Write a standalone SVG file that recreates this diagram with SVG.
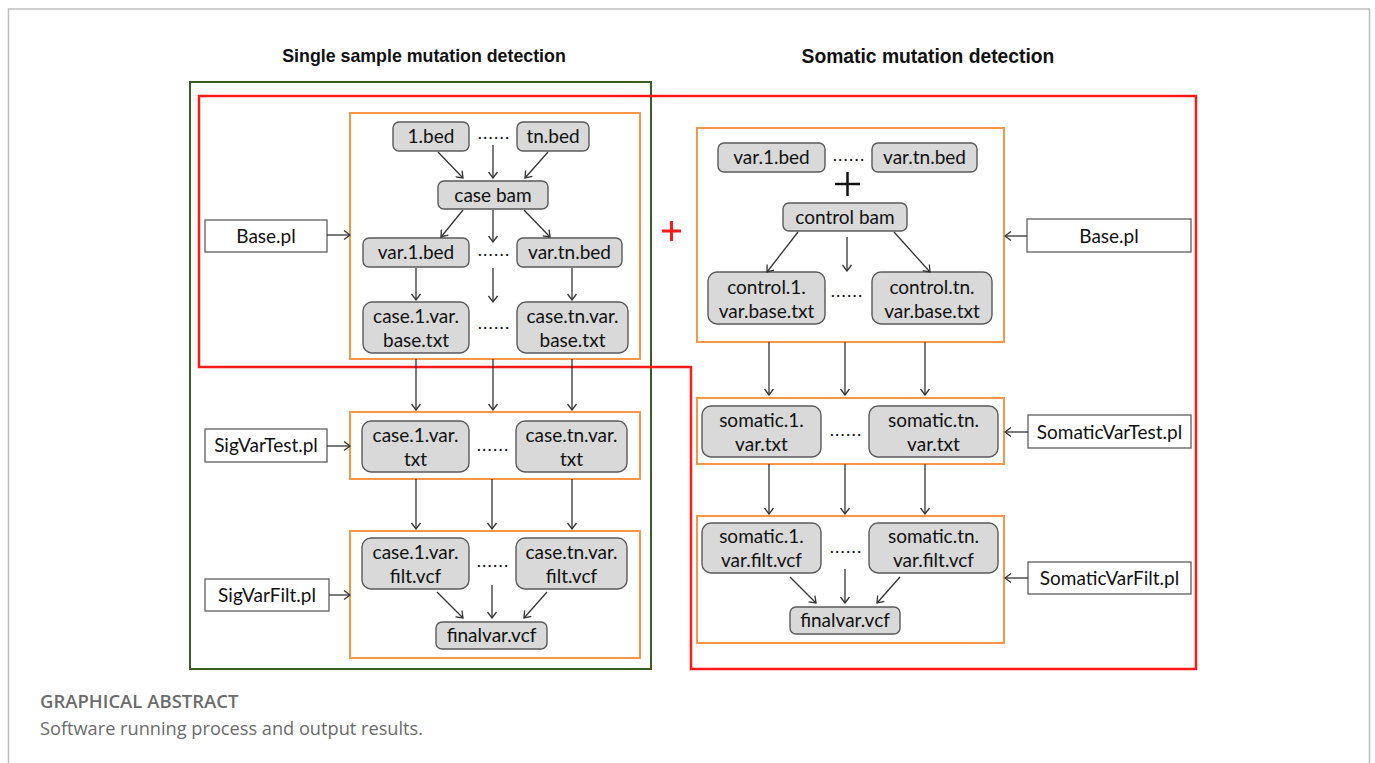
<svg xmlns="http://www.w3.org/2000/svg" width="1375" height="763" viewBox="0 0 1375 763">
<style>
.frame{fill:none;stroke:#bdbdbd;stroke-width:1.5}
.title{font-family:"Liberation Sans",Arial,sans-serif;font-weight:bold;font-size:17.8px;fill:#111;text-anchor:middle}
.grp-green{fill:none;stroke:#3a5e22;stroke-width:2}
.grp-red{fill:none;stroke:#ff1a1a;stroke-width:2.5}
.stage{fill:none;stroke:#f79646;stroke-width:2}
.node rect{fill:#d9d9d9;stroke:#5a5a5a;stroke-width:1.4}
.script rect{fill:#fff;stroke:#6a6a6a;stroke-width:1.4}
.lbl{font-family:Lato,"Open Sans",sans-serif;font-size:19px;fill:#111;text-anchor:middle}
.dots{font-family:Lato,sans-serif;font-size:18px;letter-spacing:1.2px;fill:#111;text-anchor:middle}
.conn line{stroke:#333;stroke-width:1.3;marker-end:url(#arr)}
.cap1{font-family:"Open Sans",sans-serif;font-weight:600;font-size:18.5px;fill:#6b6b6b}
.cap2{font-family:"Open Sans",sans-serif;font-size:18.2px;fill:#6b6b6b}
</style>
<defs>
<marker id="arr" viewBox="0 0 10 10" refX="9" refY="5" markerWidth="10" markerHeight="10" markerUnits="userSpaceOnUse" orient="auto">
<path d="M3,0.5 L9,5 L3,9.5" fill="none" stroke="#333" stroke-width="1.3"/>
</marker>
</defs>
<rect width="1375" height="763" fill="#fff"/>
<path class="frame" d="M8.5,763 V9 H1369.5 V763"/>

<text class="title" x="424" y="62">Single sample mutation detection</text>
<text class="title" x="928" y="63" style="font-size:19.3px">Somatic mutation detection</text>

<rect class="grp-green" x="190" y="82" width="461" height="587"/>
<path class="grp-red" d="M199,96 H1196 V669 H691 V367 H199 Z"/>

<!-- stages -->
<rect class="stage" x="350" y="113" width="290" height="246"/>
<rect class="stage" x="350" y="412" width="290" height="67"/>
<rect class="stage" x="350" y="531" width="290" height="127"/>
<rect class="stage" x="697" y="128" width="307" height="214"/>
<rect class="stage" x="697" y="398" width="307" height="66"/>
<rect class="stage" x="697" y="516" width="307" height="127"/>

<!-- red plus -->
<path d="M662,231 H681 M671.5,221 V241" stroke="#ff1a1a" stroke-width="3" fill="none"/>
<!-- black plus -->
<path d="M835,184 H860 M847.5,172 V196" stroke="#111" stroke-width="2.5" fill="none"/>

<!-- left side nodes -->
<g id="n-1bed" class="node"><rect x="393" y="122" width="76" height="29" rx="6"/><text class="lbl" x="431" y="143">1.bed</text></g>
<g id="n-tnbed" class="node"><rect x="517" y="122" width="72" height="29" rx="6"/><text class="lbl" x="553" y="143">tn.bed</text></g>
<g id="n-casebam" class="node"><rect x="438" y="181" width="110" height="28" rx="6"/><text class="lbl" x="493" y="202">case bam</text></g>
<g id="n-var1bed" class="node"><rect x="363" y="238" width="106" height="29" rx="6"/><text class="lbl" x="416" y="259">var.1.bed</text></g>
<g id="n-vartnbed" class="node"><rect x="517" y="238" width="105" height="29" rx="6"/><text class="lbl" x="569.5" y="259">var.tn.bed</text></g>
<g id="n-case1base" class="node"><rect x="363" y="302" width="106" height="51" rx="9"/><text class="lbl" x="416" y="323">case.1.var.</text><text class="lbl" x="416" y="347">base.txt</text></g>
<g id="n-casetnbase" class="node"><rect x="517" y="302" width="111" height="51" rx="9"/><text class="lbl" x="572.5" y="323">case.tn.var.</text><text class="lbl" x="572.5" y="347">base.txt</text></g>
<g id="n-case1txt" class="node"><rect x="362" y="421" width="107" height="51" rx="9"/><text class="lbl" x="415.5" y="442">case.1.var.</text><text class="lbl" x="415.5" y="466">txt</text></g>
<g id="n-casetntxt" class="node"><rect x="516" y="421" width="111" height="51" rx="9"/><text class="lbl" x="571.5" y="442">case.tn.var.</text><text class="lbl" x="571.5" y="466">txt</text></g>
<g id="n-case1filt" class="node"><rect x="362" y="538" width="107" height="51" rx="9"/><text class="lbl" x="415.5" y="559">case.1.var.</text><text class="lbl" x="415.5" y="583">filt.vcf</text></g>
<g id="n-casetnfilt" class="node"><rect x="516" y="538" width="111" height="51" rx="9"/><text class="lbl" x="571.5" y="559">case.tn.var.</text><text class="lbl" x="571.5" y="583">filt.vcf</text></g>
<g id="n-finalL" class="node"><rect x="436" y="622" width="111" height="27" rx="6"/><text class="lbl" x="491.5" y="642">finalvar.vcf</text></g>

<!-- right side nodes -->
<g id="n-rvar1bed" class="node"><rect x="718" y="143" width="107" height="29" rx="6"/><text class="lbl" x="771.5" y="164">var.1.bed</text></g>
<g id="n-rvartnbed" class="node"><rect x="872" y="143" width="105" height="29" rx="6"/><text class="lbl" x="924.5" y="164">var.tn.bed</text></g>
<g id="n-controlbam" class="node"><rect x="783" y="203" width="124" height="28" rx="6"/><text class="lbl" x="845" y="224">control bam</text></g>
<g id="n-control1" class="node"><rect x="708" y="272" width="117" height="52" rx="9"/><text class="lbl" x="766.5" y="294">control.1.</text><text class="lbl" x="766.5" y="318">var.base.txt</text></g>
<g id="n-controltn" class="node"><rect x="872" y="272" width="120" height="52" rx="9"/><text class="lbl" x="932" y="294">control.tn.</text><text class="lbl" x="932" y="318">var.base.txt</text></g>
<g id="n-som1txt" class="node"><rect x="702" y="406" width="119" height="51" rx="9"/><text class="lbl" x="761.5" y="427">somatic.1.</text><text class="lbl" x="761.5" y="451">var.txt</text></g>
<g id="n-somtntxt" class="node"><rect x="869" y="406" width="129" height="51" rx="9"/><text class="lbl" x="933.5" y="427">somatic.tn.</text><text class="lbl" x="933.5" y="451">var.txt</text></g>
<g id="n-som1filt" class="node"><rect x="702" y="523" width="119" height="50" rx="9"/><text class="lbl" x="761.5" y="543">somatic.1.</text><text class="lbl" x="761.5" y="567">var.filt.vcf</text></g>
<g id="n-somtnfilt" class="node"><rect x="869" y="523" width="129" height="50" rx="9"/><text class="lbl" x="933.5" y="543">somatic.tn.</text><text class="lbl" x="933.5" y="567">var.filt.vcf</text></g>
<g id="n-finalR" class="node"><rect x="790" y="607" width="110" height="27" rx="6"/><text class="lbl" x="845" y="627">finalvar.vcf</text></g>

<!-- scripts -->
<g id="s-baseL" class="script"><rect x="205" y="220" width="122" height="32"/><text class="lbl" x="266" y="243">Base.pl</text></g>
<g id="s-sigvartest" class="script"><rect x="205" y="429" width="122" height="33"/><text class="lbl" x="266" y="452">SigVarTest.pl</text></g>
<g id="s-sigvarfilt" class="script"><rect x="205" y="579" width="124" height="32"/><text class="lbl" x="267" y="602">SigVarFilt.pl</text></g>
<g id="s-baseR" class="script"><rect x="1027" y="219" width="164" height="33"/><text class="lbl" x="1109" y="243">Base.pl</text></g>
<g id="s-somvartest" class="script"><rect x="1028" y="415" width="163" height="33"/><text class="lbl" x="1109.5" y="439">SomaticVarTest.pl</text></g>
<g id="s-somvarfilt" class="script"><rect x="1028" y="562" width="163" height="32"/><text class="lbl" x="1109.5" y="585">SomaticVarFilt.pl</text></g>

<!-- dots -->
<g id="dots">
<text class="dots" x="494" y="139">......</text>
<text class="dots" x="494" y="256">......</text>
<text class="dots" x="494" y="329">......</text>
<text class="dots" x="493" y="451">......</text>
<text class="dots" x="493" y="567">......</text>
<text class="dots" x="849" y="161">......</text>
<text class="dots" x="847" y="297">......</text>
<text class="dots" x="846" y="436">......</text>
<text class="dots" x="846" y="553">......</text>
</g>

<!-- connectors -->
<g id="connectors" class="conn">
<line x1="438" y1="152" x2="463" y2="178"/>
<line x1="493" y1="145" x2="493" y2="178"/>
<line x1="548" y1="152" x2="525" y2="178"/>
<line x1="463" y1="210" x2="441" y2="237"/>
<line x1="493" y1="210" x2="493" y2="242"/>
<line x1="524" y1="210" x2="550" y2="237"/>
<line x1="416" y1="268" x2="416" y2="300"/>
<line x1="493" y1="268" x2="493" y2="302"/>
<line x1="572" y1="268" x2="572" y2="300"/>
<line x1="327" y1="235" x2="350" y2="235"/>
<line x1="416" y1="359" x2="416" y2="410"/>
<line x1="493" y1="359" x2="493" y2="410"/>
<line x1="572" y1="359" x2="572" y2="410"/>
<line x1="327" y1="446" x2="350" y2="446"/>
<line x1="416" y1="479" x2="416" y2="529"/>
<line x1="492" y1="479" x2="492" y2="529"/>
<line x1="572" y1="479" x2="572" y2="529"/>
<line x1="437" y1="592" x2="463" y2="618"/>
<line x1="492" y1="585" x2="492" y2="618"/>
<line x1="547" y1="592" x2="524" y2="618"/>
<line x1="329" y1="595" x2="350" y2="595"/>
<line x1="798" y1="232" x2="767" y2="272"/>
<line x1="847" y1="237" x2="847" y2="271"/>
<line x1="894" y1="232" x2="930" y2="272"/>
<line x1="1027" y1="236" x2="1005" y2="236"/>
<line x1="769" y1="342" x2="769" y2="395"/>
<line x1="845" y1="342" x2="845" y2="395"/>
<line x1="925" y1="342" x2="925" y2="395"/>
<line x1="1028" y1="432" x2="1005" y2="432"/>
<line x1="769" y1="464" x2="769" y2="514"/>
<line x1="845" y1="464" x2="845" y2="514"/>
<line x1="925" y1="464" x2="925" y2="514"/>
<line x1="790" y1="577" x2="816" y2="603"/>
<line x1="845" y1="569" x2="845" y2="603"/>
<line x1="900" y1="577" x2="877" y2="603"/>
<line x1="1028" y1="578" x2="1005" y2="578"/>
</g>

<text class="cap1" x="40" y="708">GRAPHICAL ABSTRACT</text>
<text class="cap2" x="40" y="735">Software running process and output results.</text>
</svg>
